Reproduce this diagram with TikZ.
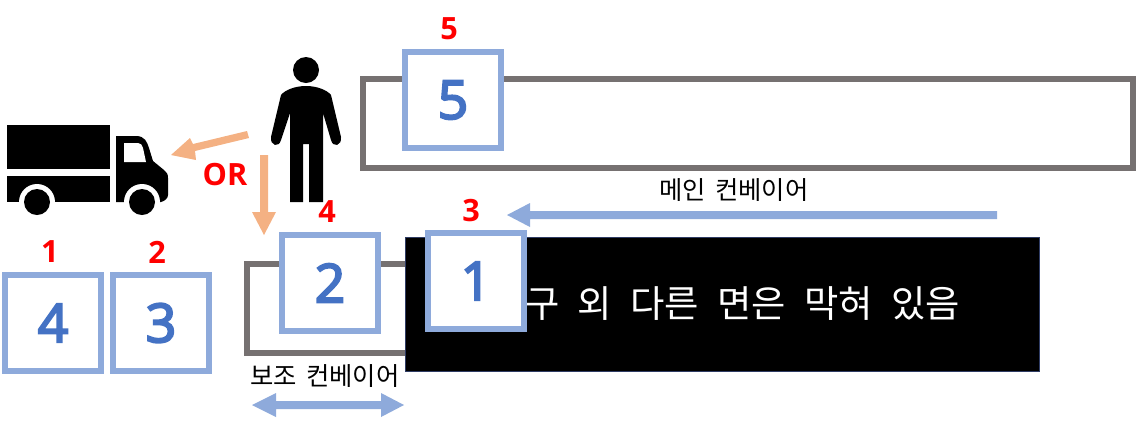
\documentclass[tikz,border=0pt]{standalone}
\usepackage{fontspec}
\setmainfont{Open Sans}
\newfontfamily\numfont[FakeBold=4]{Open Sans}
\newfontfamily\krfont[WordSpace=1.6]{Noto Sans CJK KR}
\newcommand{\covergap}{\hspace{3.7pt}}
\definecolor{boxblue}{RGB}{142,170,219}
\definecolor{numblue}{RGB}{68,114,196}
\definecolor{beltgray}{RGB}{118,113,113}
\definecolor{armorange}{RGB}{244,177,131}
\definecolor{coveredge}{RGB}{47,60,100}
\tikzset{
 numbox/.style={draw=boxblue,line width=4.5pt,fill=white,minimum size=72pt,inner sep=0pt,text=numblue,font=\numfont\fontsize{40}{40}\selectfont},
 rednum/.style={text=red,font=\fontsize{23}{23}\selectfont\bfseries,inner sep=0pt},
 belt/.style={draw=beltgray,line width=4.5pt,fill=white},
 krlabel/.style={font=\krfont\fontsize{19}{19}\selectfont,inner sep=0pt},
 flowblue/.style={fill=boxblue},
 floworange/.style={fill=armorange}
}
\begin{document}
\begin{tikzpicture}[x=0.75pt,y=-0.75pt]
\useasboundingbox (0,0) rectangle (1145,430);

%belts
\draw[belt] (363,79) rectangle (1133,168);
\draw[belt] (247,264) rectangle (420,353);
\fill[draw=coveredge,fill=black,line width=0.5pt] (405.5,237.5) rectangle (1039.5,371.5);
\node[text=white,font=\krfont\fontsize{28}{28}\selectfont,inner sep=0pt,anchor=west] (coverlabel) at (525,304) {구 \covergap{}외 \covergap{}다른 \covergap{}면은 \covergap{}막혀 \covergap{}있음};

%boxes
\node[numbox] (boxa) at (53,323) {4};
\node[numbox] (boxb) at (161,323) {3};
\node[numbox] (boxc) at (330,283) {2};
\node[numbox] (boxd) at (476,281) {1};
\node[numbox] (boxe) at (453,100) {5};

%numbers
\node[rednum] (numa) at (50,252) {1};
\node[rednum] (numb) at (157,252) {2};
\node[rednum] (numc) at (327,212) {4};
\node[rednum] (numd) at (471,211) {3};
\node[rednum] (nume) at (449,29) {5};
\node[rednum] (orlabel) at (225,175) {OR};

%labels
\node[krlabel] (mainlabel) at (734,190) {메인 컨베이어};
\node[krlabel] (sublabel) at (325,376) {보조 컨베이어};

%arrows
\fill[flowblue] (997,211) -- (530,211) -- (530,203) -- (507,215) -- (530,227) -- (530,219) -- (997,219) -- cycle;
\fill[flowblue] (252,405) -- (276,393) -- (276,401) -- (381,401) -- (381,393) -- (404,405) -- (381,417) -- (381,409) -- (276,409) -- (276,417) -- cycle;
\fill[floworange] (260,155) -- (268,155) -- (268,212) -- (276,212) -- (264,235) -- (252,212) -- (260,212) -- cycle;
\fill[floworange] (247,131) -- (249,138) -- (195,151) -- (196,160) -- (171,155) -- (190,138) -- (193,144) -- cycle;

%person
\fill (306,70) circle (13);
\fill (306,86) .. controls (295,86) and (285,90) .. (281,95) -- (271,137) .. controls (270,146) and (279,148) .. (281,140) -- (290,113) -- (290,202) -- (303,202) -- (303,144) -- (309,144) -- (309,202) -- (323,202) -- (323,113) -- (331,140) .. controls (333,148) and (342,146) .. (341,137) -- (331,95) .. controls (327,90) and (317,86) .. (306,86) -- cycle;

%truck
\fill (7,125) rectangle (110,169);
\fill (7,176) rectangle (110,202);
\fill (116,136) -- (136,136) .. controls (145,136) and (147,142) .. (149,148) -- (153,161) -- (164,170) .. controls (167,173) and (168,174) .. (168,178) -- (168,195) .. controls (168,198) and (165,201) .. (161,202) -- (116,202) -- cycle;
\fill[white] (124,143) -- (138,143) .. controls (141,143) and (142,145) .. (143,148) -- (146,162) -- (124,162) -- cycle;
\fill[white] (37,202) circle (18);
\fill[white] (142,202) circle (18);
\fill (37,202) circle (13);
\fill (142,202) circle (13);
\end{tikzpicture}
\end{document}
